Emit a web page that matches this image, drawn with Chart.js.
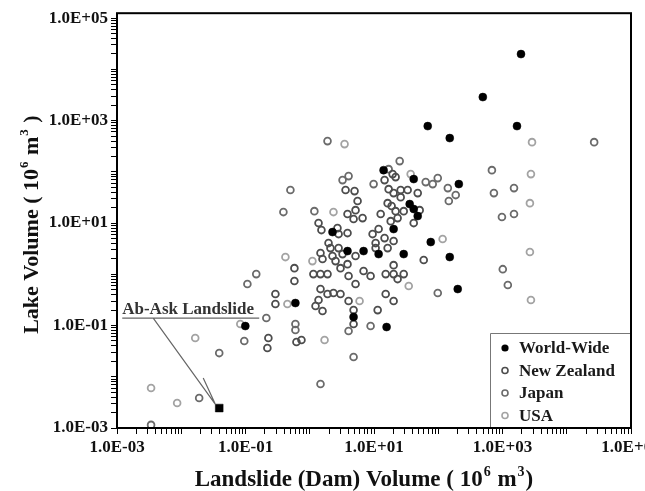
<!DOCTYPE html>
<html>
<head>
<meta charset="utf-8">
<script src="https://cdn.jsdelivr.net/npm/chart.js@4.4.0/dist/chart.umd.min.js"></script>
<style>
  html, body { margin: 0; padding: 0; background: #fff; overflow: hidden; }
  #wrap { width: 680px; height: 491px; }
</style>
</head>
<body>
<div id="wrap"><canvas id="chart" width="680" height="491"></canvas></div>
<script>
// series names as in the legend
const seriesNames = ['World-Wide', 'New Zealand', 'Japan', 'USA'];

// landslide (dam) volume / lake volume, both in 10^6 m^3
const worldX = [1940, 494, 1680, 68.6, 151, 14.1, 41.5, 209, 35.9, 41.5, 47.9, 20.2, 2.26, 76.4, 6.88, 3.87, 11.8, 29.0, 151, 201, 0.598, 4.81, 15.7, 0.0993];
const worldY = [19900, 2880, 781, 781, 456, 108, 72.3, 57.7, 23.5, 18.8, 13.7, 7.64, 6.67, 4.26, 2.84, 2.84, 2.48, 2.48, 2.17, 0.515, 0.275, 0.147, 0.0935, 0.0977];

const nzX = [0.227, 0.219, 0.577, 0.577, 0.292, 0.292, 0.621, 0.743, 1.37, 1.52, 1.47, 1.58, 1.14, 1.47, 2.10, 2.81, 2.26, 2.52, 1.89, 3.01,
  1.47, 1.89, 2.34, 3.01, 1.37, 1.23, 1.58, 1.96, 2.70, 2.81, 3.61, 4.98, 5.55, 3.87, 5.16, 4.81, 6.64, 3.87, 3.24, 3.87,
  5.16, 4.02, 6.88, 5.16, 4.02, 4.81, 4.81, 8.85, 19.5, 21.7, 14.6, 16.9, 20.2, 26.0, 33.4, 47.9, 26.0, 16.3, 18.8, 21.7,
  29.0, 51.4, 41.5, 12.7, 18.2, 23.3, 11.8, 9.51, 14.6, 10.6, 10.6, 16.3, 20.2, 20.2, 15.2, 20.2, 29.0, 23.3, 15.2, 20.2,
  11.4, 59.4];
const nzY = [0.0570, 0.0364, 1.32, 0.738, 0.412, 0.263, 0.0477, 0.0521, 10.0, 7.30, 2.60, 1.99, 1.01, 1.01, 3.25, 3.25, 2.27, 1.81, 1.01, 1.32,
  0.515, 0.412, 0.431, 0.412, 0.315, 0.240, 0.192, 4.07, 7.98, 6.10, 44.1, 42.1, 26.9, 15.0, 17.9, 12.0, 12.5, 6.38, 2.48, 1.58,
  2.27, 0.925, 1.16, 0.645, 0.301, 0.107, 0.200, 0.925, 90.4, 79.0, 69.0, 46.0, 38.5, 44.1, 44.1, 38.5, 32.1, 24.5, 21.5, 17.1,
  17.1, 17.9, 10.0, 15.0, 10.9, 12.5, 7.64, 6.10, 5.09, 4.07, 3.25, 3.25, 4.46, 1.51, 1.01, 1.01, 1.01, 0.807, 0.412, 0.301,
  0.200, 1.90];

const japanX = [0.00339, 0.0190, 0.0390, 0.0957, 0.107, 0.147, 0.211, 0.389, 0.500, 0.598, 0.598, 1.89, 1.18, 1.47, 3.24, 4.02, 4.02, 4.81, 8.85, 25.1,
  16.9, 9.86, 63.8, 82.0, 98.2, 141, 187, 146, 98.2, 684, 26700, 735, 1510, 980, 1510, 1010, 1210];
const japanY = [0.00115, 0.00385, 0.0290, 0.0499, 0.645, 1.01, 0.140, 16.4, 44.1, 0.107, 0.0817, 398, 17.1, 0.00723, 69.0, 82.6, 0.0782, 0.0243, 0.0977, 162,
  113, 57.7, 63.1, 57.7, 75.5, 48.2, 35.2, 26.9, 0.431, 108, 380, 38.5, 48.2, 13.1, 15.0, 1.26, 0.617];

const usaX = [0.00339, 0.00863, 0.0165, 0.0830, 0.418, 0.449, 3.48, 2.34, 1.10, 1.70, 5.96, 37.2, 34.7, 117, 2880, 2770, 2670, 2670, 2770];
const usaY = [0.00603, 0.00308, 0.0570, 0.107, 2.17, 0.263, 348, 16.4, 1.81, 0.0521, 0.301, 90.4, 0.590, 4.88, 380, 90.4, 24.5, 2.72, 0.315];

const abAskX = [0.039];
const abAskY = [0.00245];
const abAskLabel = 'Ab-Ask Landslide';

// log axis ticks
const decades = [-3, -2, -1, 0, 1, 2, 3, 4];
const labelDecades = [-3, -1, 1, 3, 5];
const tickLabels = ['1.0E-03', '1.0E-01', '1.0E+01', '1.0E+03', '1.0E+05'];

const xTitleParts = [['Landslide (Dam) Volume ( 10', 0], ['6', 1], [' m', 0], ['3', 1], [')', 0]];
const yTitleParts = [['Lake Volume ( 10', 0], ['6', 1], [' m', 0], ['3', 1], [' )', 0]];

const serif = '"Liberation Serif", "Times New Roman", serif';
Chart.defaults.font.family = serif;

function zip(xs, ys) {
  return xs.map((x, i) => ({ x: x, y: ys[i] }));
}

function buildTicks(scale) {
  const ticks = [];
  decades.forEach(d => {
    for (let k = 1; k <= 9; k++) ticks.push({ value: k * Math.pow(10, d) });
  });
  ticks.push({ value: 1e5 });
  scale.ticks = ticks;
}

function labelFor(value) {
  const lg = Math.log10(value);
  const idx = labelDecades.findIndex(d => Math.abs(lg - d) < 1e-6);
  return idx >= 0 ? tickLabels[idx] : '';
}

function drawRich(ctx, parts, cx, cy, size) {
  const big = 'bold ' + size + 'px ' + serif;
  const small = 'bold ' + Math.round(size * 0.6) + 'px ' + serif;
  let total = 0;
  parts.forEach(p => {
    ctx.font = p[1] ? small : big;
    total += ctx.measureText(p[0]).width + (p[1] ? 2 : 0);
  });
  let x = cx - total / 2;
  const base = cy + size * 0.35;
  ctx.textBaseline = 'alphabetic';
  ctx.textAlign = 'left';
  parts.forEach(p => {
    ctx.font = p[1] ? small : big;
    if (p[1]) x += 1;
    ctx.fillText(p[0], x, p[1] ? base - size * 0.42 : base);
    x += ctx.measureText(p[0]).width + (p[1] ? 1 : 0);
  });
}

const ringStyles = [
  { color: '#000', fill: true },
  { color: '#4d4d4d', fill: false },
  { color: '#6b6b6b', fill: false },
  { color: '#a3a3a3', fill: false }
];

const decorPlugin = {
  id: 'decor',
  afterDraw(chart) {
    const { ctx, chartArea: a, scales } = chart;
    ctx.save();

    // frame
    ctx.strokeStyle = '#000';
    ctx.lineWidth = 2;
    ctx.strokeRect(a.left, a.top, a.right - a.left, a.bottom - a.top);

    // legend box
    const lw = 141, lh = 95;
    const lx = a.right - lw, ly = a.bottom - lh;
    ctx.fillStyle = '#fff';
    ctx.fillRect(lx, ly, lw, lh);
    ctx.strokeStyle = '#777';
    ctx.lineWidth = 1;
    ctx.beginPath();
    ctx.moveTo(lx + 0.5, a.bottom);
    ctx.lineTo(lx + 0.5, ly + 0.5);
    ctx.lineTo(a.right, ly + 0.5);
    ctx.stroke();
    ctx.strokeStyle = '#000';
    ctx.lineWidth = 2;
    ctx.beginPath();
    ctx.moveTo(a.right, ly);
    ctx.lineTo(a.right, a.bottom);
    ctx.lineTo(lx, a.bottom);
    ctx.stroke();

    seriesNames.forEach((name, i) => {
      const yy = ly + 15 + i * 22.5;
      const st = ringStyles[i];
      ctx.beginPath();
      if (st.fill) {
        ctx.arc(lx + 15, yy, 3.6, 0, Math.PI * 2);
        ctx.fillStyle = st.color;
        ctx.fill();
      } else {
        ctx.arc(lx + 15, yy, 3, 0, Math.PI * 2);
        ctx.strokeStyle = st.color;
        ctx.lineWidth = 1.6;
        ctx.stroke();
      }
      ctx.fillStyle = '#1a1a1a';
      ctx.font = 'bold 17px ' + serif;
      ctx.textAlign = 'left';
      ctx.textBaseline = 'middle';
      ctx.fillText(name, lx + 29, yy + 1);
    });

    // Ab-Ask annotation
    const px = scales.x.getPixelForValue(abAskX[0]);
    const py = scales.y.getPixelForValue(abAskY[0]);
    ctx.fillStyle = '#333';
    ctx.font = 'bold 17px ' + serif;
    ctx.textAlign = 'left';
    ctx.textBaseline = 'alphabetic';
    ctx.fillText(abAskLabel, px - 97, py - 94);
    ctx.strokeStyle = '#666';
    ctx.lineWidth = 1.2;
    ctx.beginPath();
    ctx.moveTo(px - 97, py - 90);
    ctx.lineTo(px + 40, py - 90);
    ctx.moveTo(px - 66, py - 90);
    ctx.lineTo(px - 4, py - 4);
    ctx.moveTo(px - 16, py - 30);
    ctx.lineTo(px - 4, py - 4);
    ctx.stroke();

    // axis titles
    ctx.fillStyle = '#111';
    drawRich(ctx, xTitleParts, a.left + 247, a.bottom + 50, 23);
    ctx.translate(a.left - 87, (a.top + a.bottom) / 2 + 4);
    ctx.rotate(-Math.PI / 2);
    drawRich(ctx, yTitleParts, 0, 0, 22);

    ctx.restore();
  }
};

function ringSet(label, xs, ys, color) {
  return {
    label: label,
    data: zip(xs, ys),
    pointRadius: 3.4,
    pointBorderWidth: 1.8,
    pointBorderColor: color,
    pointBackgroundColor: 'rgba(255,255,255,0)'
  };
}

const axisCommon = {
  type: 'logarithmic',
  afterBuildTicks: buildTicks,
  grid: { display: true, drawOnChartArea: false, drawTicks: true, tickLength: 6, color: '#000', tickColor: '#000', lineWidth: 1 },
  border: { display: false },
  ticks: { autoSkip: false, maxRotation: 0, minRotation: 0, padding: 3, color: '#111', font: { size: 17, weight: 'bold' }, callback: labelFor }
};

new Chart(document.getElementById('chart'), {
  type: 'scatter',
  data: {
    datasets: [
      { label: seriesNames[0], data: zip(worldX, worldY), pointRadius: 4, pointBackgroundColor: '#000', pointBorderColor: '#000', pointBorderWidth: 0.5 },
      { label: abAskLabel, data: zip(abAskX, abAskY), pointStyle: 'rect', pointRadius: 5.5, pointBackgroundColor: '#000', pointBorderColor: '#000', pointBorderWidth: 0.5 },
      ringSet(seriesNames[1], nzX, nzY, ringStyles[1].color),
      ringSet(seriesNames[2], japanX, japanY, ringStyles[2].color),
      ringSet(seriesNames[3], usaX, usaY, ringStyles[3].color)
    ]
  },
  options: {
    responsive: false,
    animation: false,
    layout: { padding: { left: 40, right: 49, top: 12, bottom: 0 } },
    plugins: { legend: { display: false }, tooltip: { enabled: false } },
    scales: {
      x: Object.assign({}, axisCommon, { min: 1e-3, max: 1e5, afterFit: s => { s.height = 63; } }),
      y: Object.assign({}, axisCommon, { min: 1e-3, max: 1.25e5, afterFit: s => { s.width = 77; } })
    }
  },
  plugins: [decorPlugin]
});
</script>
</body>
</html>
